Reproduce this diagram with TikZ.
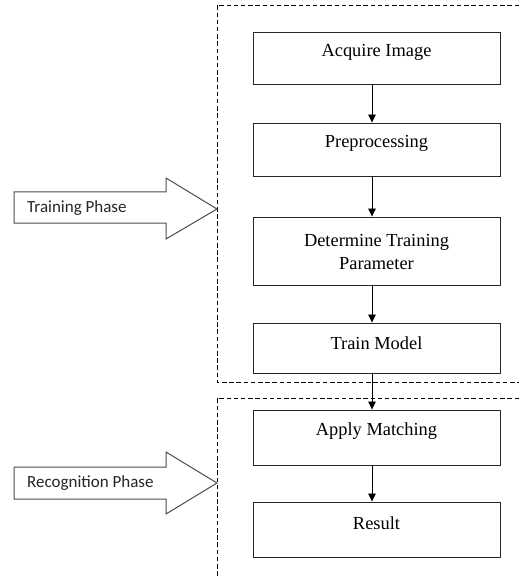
\documentclass[tikz,border=0pt]{standalone}
\usepackage{fontspec}
\setmainfont{Liberation Serif}
\newfontfamily\calfont{Carlito}
\usetikzlibrary{arrows.meta}
\tikzset{
  box/.style={draw=black!85, line width=0.9pt, minimum width=247pt, inner sep=0pt},
  boxtext/.style={font=\fontsize{18.4}{23}\selectfont, align=center, inner sep=0pt},
  flow/.style={draw=black, line width=0.8pt, -{Triangle[length=8pt,width=7.5pt]}},
  dashline/.style={draw=black, line width=0.9pt, dash pattern=on 4.5pt off 2.7pt},
  phase/.style={draw=black!70, line width=1pt, fill=white},
  phasetext/.style={font=\calfont\fontsize{17}{20}\selectfont, anchor=west, inner sep=0pt, text=black!85}
}
\begin{document}
\begin{tikzpicture}[x=1pt,y=-1pt]
\useasboundingbox (0,0) rectangle (519,577);
% phase regions
\draw[dashline] (519,5) -- (217,5) -- (217,382) -- (519,382);
\draw[dashline] (519,398) -- (217,398) -- (217,577);
% boxes
\node[box, minimum height=52pt] (b1) at (376.5,58) {};
\node[boxtext] (t1) at (376.5,52) {Acquire Image};
\node[box, minimum height=53pt] (b2) at (376.5,149.5) {};
\node[boxtext] (t2) at (376.5,143) {Preprocessing};
\node[box, minimum height=68pt] (b3) at (376.5,251) {};
\node[boxtext] (t3) at (376.5,252) {Determine Training\\Parameter};
\node[box, minimum height=50pt] (b4) at (376.5,348) {};
\node[boxtext] (t4) at (376.5,343) {Train Model};
\node[box, minimum height=55pt] (b5) at (376.5,437.5) {};
\node[boxtext] (t5) at (376.5,431) {Apply Matching};
\node[box, minimum height=55pt] (b6) at (376.5,529.5) {};
\node[boxtext] (t6) at (376.5,523) {Result};
% connectors
\draw[flow] ([xshift=-4.5pt]b1.south) -- ([xshift=-4.5pt]b2.north);
\draw[flow] ([xshift=-4.5pt]b2.south) -- ([xshift=-4.5pt]b3.north);
\draw[flow] ([xshift=-4.5pt]b3.south) -- ([xshift=-4.5pt]b4.north);
\draw[flow] ([xshift=-4.5pt]b4.south) -- ([xshift=-4.5pt]b5.north);
\draw[flow] ([xshift=-4.5pt]b5.south) -- ([xshift=-4.5pt]b6.north);
% phase arrows
\draw[phase] (14,192) -- (166,192) -- (166,178) -- (217,209) -- (166,239) -- (166,223) -- (14,223) -- cycle;
\node[phasetext] (p1) at (27,208) {Training Phase};
\draw[phase] (14,467) -- (166,467) -- (166,452) -- (217,483) -- (166,514) -- (166,499) -- (14,499) -- cycle;
\node[phasetext] (p2) at (27,483) {Recognition Phase};
\end{tikzpicture}
\end{document}
